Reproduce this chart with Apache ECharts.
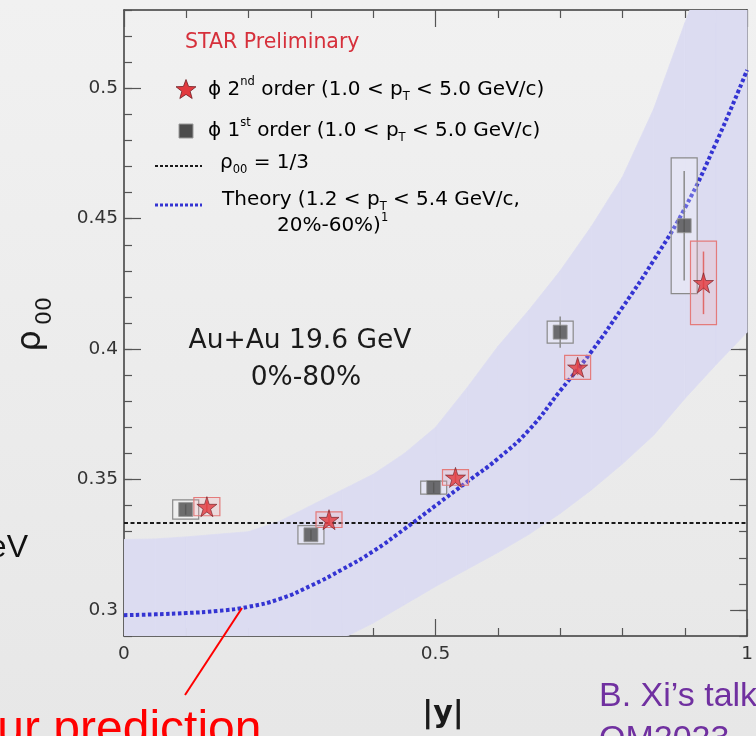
<!DOCTYPE html>
<html><head><meta charset="utf-8">
<script src="https://cdn.jsdelivr.net/npm/echarts@6/dist/echarts.min.js"></script>
<style>
html,body{margin:0;padding:0;width:756px;height:736px;overflow:hidden;background:linear-gradient(#f1f1f1,#e7e7e7);}
#c{width:756px;height:736px;}
</style>
</head><body><div id="c"></div>
<script>
// ---- data ----
const bandX     = [0, 0.05, 0.1, 0.15, 0.2, 0.25, 0.3, 0.35, 0.4, 0.45, 0.5, 0.55, 0.6, 0.65, 0.7, 0.75, 0.8, 0.85, 0.9, 0.95, 1.0];
const bandLower = [0.262, 0.264, 0.266, 0.269, 0.272, 0.277, 0.283, 0.289, 0.295, 0.302, 0.309, 0.3155, 0.322, 0.329, 0.337, 0.346, 0.356, 0.367, 0.381, 0.394, 0.4065];
const bandUpper = [0.327, 0.3272, 0.328, 0.329, 0.330, 0.334, 0.340, 0.346, 0.352, 0.360, 0.370, 0.385, 0.401, 0.415, 0.430, 0.447, 0.466, 0.492, 0.525, 0.556, 0.590];

const theoryX = [0, 0.05, 0.1, 0.15, 0.2, 0.25, 0.3, 0.35, 0.4, 0.45, 0.5, 0.55, 0.6, 0.65, 0.7, 0.75, 0.8, 0.85, 0.9, 0.95, 1.0];
const theoryY = [0.2980, 0.2983, 0.2988, 0.2996, 0.3012, 0.3042, 0.3093, 0.3155, 0.3225, 0.3310, 0.3400, 0.3490, 0.3580, 0.3690, 0.3840, 0.3990, 0.4160, 0.4340, 0.4540, 0.4790, 0.5070];

const refLevel = 1 / 3;

const secondX    = [0.133, 0.329, 0.532, 0.728, 0.930];
const secondY    = [0.3396, 0.3346, 0.3508, 0.3930, 0.4254];
const secondSys  = [0.0035, 0.0030, 0.0030, 0.0046, 0.0160];
const secondStat = [0.0020, 0.0020, 0.0020, 0.0030, 0.0120];

const firstX    = [0.099, 0.300, 0.497, 0.700, 0.899];
const firstY    = [0.3385, 0.3288, 0.3469, 0.4065, 0.4473];
const firstSys  = [0.0037, 0.0035, 0.0025, 0.0042, 0.0260];
const firstStat = [0.0020, 0.0020, 0.0020, 0.0060, 0.0210];

const yTickValues = [0.3, 0.35, 0.4, 0.45, 0.5];
const xTickValues = [0, 0.5, 1];

// ---- chart ----
const FIG_FONT = 'DejaVu Sans';
const SLIDE_FONT = 'Liberation Sans';
const BAND_COLOR = '#dcdcf1';
const chart = echarts.init(document.getElementById('c'), null, {renderer: 'canvas'});

const zip = (a, b) => a.map((v, i) => [v, b[i]]);
const zip3 = (a, b, c) => a.map((v, i) => [v, b[i], c[i]]);

function boxSeries(name, data, stroke, fill, z) {
  return {
    type: 'custom', name, data, z, clip: true,
    renderItem(params, api) {
      const x = api.value(0), y = api.value(1), e = api.value(2);
      const t = api.coord([x, y + e]), b = api.coord([x, y - e]);
      const hw = 13;
      return {type: 'rect', shape: {x: t[0] - hw, y: t[1], width: 2 * hw, height: b[1] - t[1]},
              style: {fill, stroke, lineWidth: 1.2}};
    }
  };
}
function barSeries(name, data, stroke, z) {
  return {
    type: 'custom', name, data, z, clip: true,
    renderItem(params, api) {
      const x = api.value(0), y = api.value(1), e = api.value(2);
      const t = api.coord([x, y + e]), b = api.coord([x, y - e]);
      return {type: 'line', shape: {x1: t[0], y1: t[1], x2: b[0], y2: b[1]},
              style: {stroke, lineWidth: 1.5}};
    }
  };
}

// band: one quad per interval between consecutive samples
const bandData = bandX.map((x, i) => [x, bandLower[i], bandUpper[i]]);
const bandSeries = {
  type: 'custom', name: 'band', data: bandData, z: 1, clip: true, silent: true,
  renderItem(params, api) {
    const i = params.dataIndex;
    if (i >= bandData.length - 1) return null;
    const a = bandData[i], b = bandData[i + 1];
    const pts = [api.coord([a[0], a[1]]), api.coord([b[0], b[1]]), api.coord([b[0], b[2]]), api.coord([a[0], a[2]])];
    return {type: 'polygon', shape: {points: pts}, style: {fill: BAND_COLOR, stroke: BAND_COLOR, lineWidth: 0.8}};
  }
};

function starPts(cx, cy, R, r) {
  const p = [];
  for (let i = 0; i < 10; i++) {
    const a = -Math.PI / 2 + i * Math.PI / 5, rad = i % 2 ? r : R;
    p.push([cx + rad * Math.cos(a), cy + rad * Math.sin(a)]);
  }
  return p;
}

const STAR = 'path://M50,0 L61,35 98,35 68,57 79,91 50,70 21,91 32,57 2,35 39,35Z';
const axisLineStyle = {color: '#3a3a3a', width: 1.5};
const tickStyle = {color: '#555', width: 1.2};

const richBase = {
  a: {fontFamily: FIG_FONT, fontSize: 20, color: '#222', lineHeight: 27, verticalAlign: 'middle'},
  s: {fontFamily: FIG_FONT, fontSize: 11.5, color: '#222', lineHeight: 14, verticalAlign: 'top'},
  b: {fontFamily: FIG_FONT, fontSize: 11.5, color: '#222', lineHeight: 12, verticalAlign: 'bottom'}
};

const option = {
  backgroundColor: 'transparent',
  animation: false,
  grid: {left: 124, top: 10, width: 626, height: 626, show: false},
  xAxis: [
    {type: 'value', min: 0, max: 1, interval: 0.5, position: 'bottom',
     axisLine: {show: true, lineStyle: axisLineStyle},
     axisTick: {show: true, inside: true, length: 17, lineStyle: tickStyle},
     minorTick: {show: true, splitNumber: 5, length: 8, lineStyle: tickStyle},
     axisLabel: {show: true, customValues: xTickValues, formatter: v => String(+(+v).toFixed(2)),
                 fontFamily: FIG_FONT, fontSize: 18.5, color: '#333', margin: 9},
     splitLine: {show: false}, minorSplitLine: {show: false}},
    {type: 'value', min: 0, max: 1, interval: 0.5, position: 'top',
     axisLine: {show: true, lineStyle: axisLineStyle},
     axisTick: {show: true, inside: true, length: 17, lineStyle: tickStyle},
     minorTick: {show: true, splitNumber: 5, length: 8, lineStyle: tickStyle},
     axisLabel: {show: false}, splitLine: {show: false}, minorSplitLine: {show: false}}
  ],
  yAxis: [
    {type: 'value', min: 0.29, max: 0.53, interval: 0.01, position: 'left',
     axisLine: {show: true, lineStyle: axisLineStyle},
     axisTick: {show: true, inside: true, length: 8, lineStyle: tickStyle},
     axisLabel: {show: true, customValues: yTickValues, formatter: v => String(+(+v).toFixed(2)),
                 fontFamily: FIG_FONT, fontSize: 18.5, color: '#333', margin: 6},
     splitLine: {show: false}},
    {type: 'value', min: 0.29, max: 0.53, position: 'left',
     axisLine: {show: false},
     axisTick: {show: true, inside: true, length: 17, customValues: yTickValues, lineStyle: tickStyle},
     axisLabel: {show: false}, splitLine: {show: false}},
    {type: 'value', min: 0.29, max: 0.53, interval: 0.01, position: 'right',
     axisLine: {show: true, lineStyle: axisLineStyle},
     axisTick: {show: true, inside: true, length: 8, lineStyle: tickStyle},
     axisLabel: {show: false}, splitLine: {show: false}},
    {type: 'value', min: 0.29, max: 0.53, position: 'right',
     axisLine: {show: false},
     axisTick: {show: true, inside: true, length: 17, customValues: yTickValues, lineStyle: tickStyle},
     axisLabel: {show: false}, splitLine: {show: false}}
  ],
  series: [
    bandSeries,
    {type: 'line', name: 'ref', data: [[0, refLevel], [1, refLevel]], symbol: 'none',
     lineStyle: {color: '#1a1a1a', width: 2, type: [4, 2.5]}, z: 3},
    {type: 'line', name: 'Theory', data: zip(theoryX, theoryY), symbol: 'none', smooth: true,
     lineStyle: {color: '#3434d2', width: 4, type: [3.5, 2.5], cap: 'butt'}, z: 4},
    boxSeries('sys1', zip3(firstX, firstY, firstSys), '#8a8a8a', 'rgba(255,255,255,0.25)', 5),
    boxSeries('sys2', zip3(secondX, secondY, secondSys), '#e47b7b', 'rgba(245,170,180,0.25)', 5),
    barSeries('stat1', zip3(firstX, firstY, firstStat), '#8a8a8a', 6),
    barSeries('stat2', zip3(secondX, secondY, secondStat), '#e06a6a', 6),
    {type: 'scatter', name: 'first', data: zip(firstX, firstY), symbol: 'rect', symbolSize: 14,
     itemStyle: {color: '#4c4c4c', borderColor: '#9a9a9a', borderWidth: 1}, z: 7},
    {type: 'scatter', name: 'second', data: zip(secondX, secondY), symbol: STAR, symbolSize: 20,
     itemStyle: {color: '#e23a3f', borderColor: '#6e1c22', borderWidth: 0.8}, z: 8}
  ],
  graphic: [
    // legend
    {type: 'text', z: 100, left: 185, top: 32, style: {text: 'STAR Preliminary', fontFamily: FIG_FONT, fontSize: 20.5, fill: '#d6303b'}},
    {type: 'polygon', z: 100, shape: {points: starPts(186, 90, 10.5, 4.4)}, style: {fill: '#e23a3f', stroke: '#6e1c22', lineWidth: 0.8}},
    {type: 'text', z: 100, x: 208, y: 90, style: {text: '{a|ϕ 2}{s|nd}{a| order (1.0 < p}{b|T}{a| < 5.0 GeV/c)}', rich: richBase, verticalAlign: 'middle'}},
    {type: 'rect', z: 100, shape: {x: 179, y: 124, width: 14, height: 14}, style: {fill: '#4c4c4c', stroke: '#9a9a9a', lineWidth: 1}},
    {type: 'text', z: 100, x: 208, y: 131, style: {text: '{a|ϕ 1}{s|st}{a| order (1.0 < p}{b|T}{a| < 5.0 GeV/c)}', rich: richBase, verticalAlign: 'middle'}},
    {type: 'line', z: 100, shape: {x1: 155, y1: 166, x2: 202, y2: 166}, style: {stroke: '#1a1a1a', lineWidth: 1.8, lineDash: [3, 2]}},
    {type: 'text', z: 100, x: 220, y: 163, style: {text: '{a|ρ}{b|00}{a| = 1/3}', rich: richBase, verticalAlign: 'middle'}},
    {type: 'line', z: 100, shape: {x1: 155, y1: 205, x2: 202, y2: 205}, style: {stroke: '#3434d2', lineWidth: 3, lineDash: [3, 2]}},
    {type: 'text', z: 100, x: 222, y: 200, style: {text: '{a|Theory (1.2 < p}{b|T}{a| < 5.4 GeV/c,}', rich: richBase, verticalAlign: 'middle'}},
    {type: 'text', z: 100, x: 277, y: 226, style: {text: '{a|20%-60%)}{s|1}', rich: richBase, verticalAlign: 'middle'}},
    // system label
    {type: 'text', z: 100, x: 300, y: 341, style: {text: 'Au+Au 19.6 GeV', fontFamily: FIG_FONT, fontSize: 26.5, fill: '#1a1a1a', align: 'center', verticalAlign: 'middle'}},
    {type: 'text', z: 100, x: 306, y: 378, style: {text: '0%-80%', fontFamily: FIG_FONT, fontSize: 26.5, fill: '#1a1a1a', align: 'center', verticalAlign: 'middle'}},
    // axis titles
    {type: 'text', z: 100, x: 31, y: 341, rotation: Math.PI / 2, style: {text: 'ρ', fontFamily: FIG_FONT, fontSize: 34, fill: '#1a1a1a', align: 'center', verticalAlign: 'middle'}},
    {type: 'text', z: 100, x: 45, y: 311, rotation: Math.PI / 2, style: {text: '00', fontFamily: FIG_FONT, fontSize: 22, fill: '#1a1a1a', align: 'center', verticalAlign: 'middle'}},
    {type: 'text', z: 100, x: 443, y: 714, style: {text: '|y|', fontFamily: FIG_FONT, fontSize: 30, fontWeight: 'bold', fill: '#1a1a1a', align: 'center', verticalAlign: 'middle'}},
    // slide annotations
    {type: 'text', z: 100, x: 28, y: 548, style: {text: 'GeV', fontFamily: SLIDE_FONT, fontSize: 32, fill: '#111', align: 'right', verticalAlign: 'middle'}},
    {type: 'line', z: 100, shape: {x1: 185, y1: 695, x2: 242, y2: 608}, style: {stroke: '#ff0000', lineWidth: 2}},
    {type: 'text', z: 100, x: -40, y: 731, style: {text: 'Our prediction', fontFamily: SLIDE_FONT, fontSize: 48, fill: '#ff0000', align: 'left', verticalAlign: 'middle'}},
    {type: 'text', z: 100, x: 599, y: 697, style: {text: 'B. Xi’s talk', fontFamily: SLIDE_FONT, fontSize: 34, fill: '#7030a0', align: 'left', verticalAlign: 'middle'}},
    {type: 'text', z: 100, x: 599, y: 740, style: {text: 'QM2023', fontFamily: SLIDE_FONT, fontSize: 34, fill: '#7030a0', align: 'left', verticalAlign: 'middle'}}
  ]
};
chart.setOption(option);
</script>
</body></html>
